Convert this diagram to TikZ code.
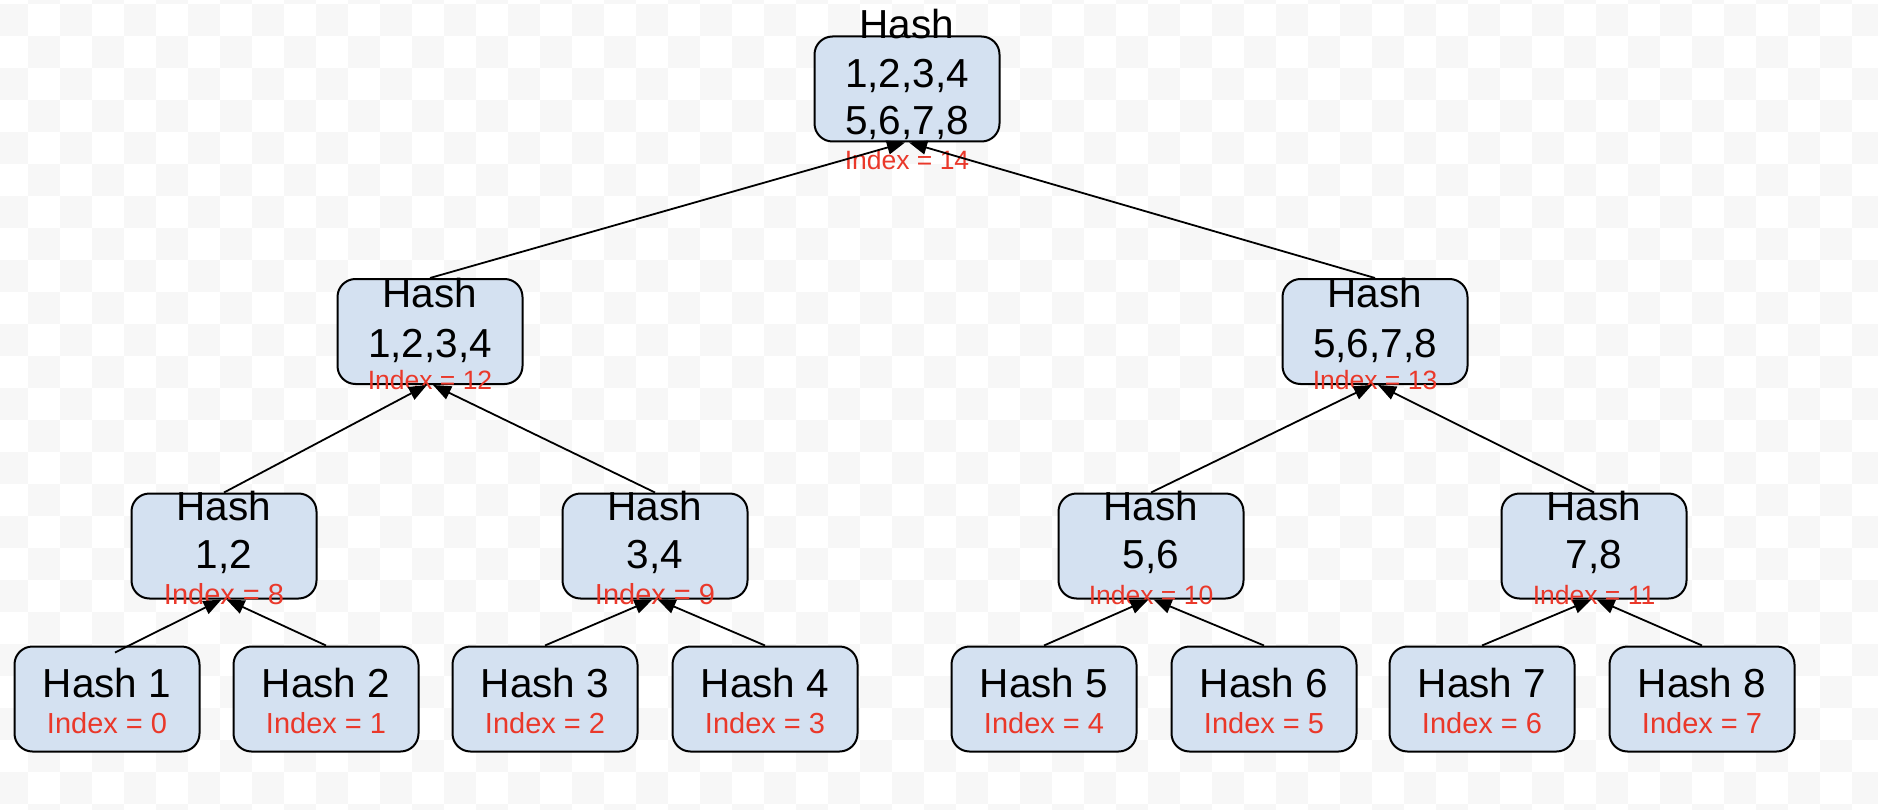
\documentclass[tikz,border=0pt]{standalone}
\usepackage{fontspec}
\setmainfont{Liberation Sans}
\usetikzlibrary{arrows.meta}
\definecolor{boxfill}{RGB}{212,225,241}
\definecolor{idxred}{RGB}{234,56,42}
\definecolor{bggray}{RGB}{247,247,247}
\begin{document}
\begin{tikzpicture}[x=1pt,y=-1pt,
  hashbox/.style={draw=black,line width=2pt,fill=boxfill,rounded corners=18pt,
    minimum width=185pt,minimum height=105pt,inner sep=0pt},
  htext/.style={anchor=base,inner sep=0pt,font=\fontsize{40.5}{48}\selectfont},
  idx/.style={anchor=base,inner sep=0pt,text=idxred,font=\fontsize{29}{34}\selectfont},
  idxs/.style={anchor=base,inner sep=0pt,text=idxred,font=\fontsize{26.5}{31}\selectfont},
  link/.style={line width=1.8pt,draw=black,-{Triangle[length=18pt,width=14pt]}}]
\useasboundingbox (0,0) rectangle (1878,810);
% checkerboard background
\begin{scope}
\clip (0,0) rectangle (1878,810);
\fill[white] (0,0) rectangle (1878,810);
\foreach \c in {-1,...,58}{
  \foreach \r in {-1,...,25}{
    \pgfmathtruncatemacro\s{mod(\c+\r+100,2)}
    \ifnum\s=1
      \fill[bggray] (28+32*\c,4+32*\r) rectangle ++(32,32);
    \fi
  }
}
\end{scope}
% boxes
\node[hashbox] (t) at (907,89) {};
\node[hashbox] (m1) at (430,331.5) {};
\node[hashbox] (m2) at (1375,331.5) {};
\node[hashbox] (p1) at (224,546) {};
\node[hashbox] (p2) at (655,546) {};
\node[hashbox] (p3) at (1151,546) {};
\node[hashbox] (p4) at (1594,546) {};
\node[hashbox] (l1) at (107,699) {};
\node[hashbox] (l2) at (326,699) {};
\node[hashbox] (l3) at (545,699) {};
\node[hashbox] (l4) at (765,699) {};
\node[hashbox] (l5) at (1044,699) {};
\node[hashbox] (l6) at (1264,699) {};
\node[hashbox] (l7) at (1482,699) {};
\node[hashbox] (l8) at (1702,699) {};
% texts: top
\node[htext] (ta) at (907,39) {Hash};
\node[htext] (tb) at (907,88) {1,2,3,4};
\node[htext] (tc) at (907,135) {5,6,7,8};
\node[idxs] (ti) at (907,170) {Index = 14};
% level 2
\node[htext] (m1a) at (430,307) {Hash};
\node[htext] (m1b) at (430,357) {1,2,3,4};
\node[idxs] (m1i) at (430,389) {Index = 12};
\node[htext] (m2a) at (1375,307) {Hash};
\node[htext] (m2b) at (1375,357) {5,6,7,8};
\node[idxs] (m2i) at (1375,389) {Index = 13};
% level 3
\node[htext] (p1a) at (224,520) {Hash};
\node[htext] (p1b) at (224,568) {1,2};
\node[idx] (p1i) at (224,604) {Index = 8};
\node[htext] (p2a) at (655,520) {Hash};
\node[htext] (p2b) at (655,568) {3,4};
\node[idx] (p2i) at (655,604) {Index = 9};
\node[htext] (p3a) at (1151,520) {Hash};
\node[htext] (p3b) at (1151,568) {5,6};
\node[idxs] (p3i) at (1151,604) {Index = 10};
\node[htext] (p4a) at (1594,520) {Hash};
\node[htext] (p4b) at (1594,568) {7,8};
\node[idxs] (p4i) at (1594,604) {Index = 11};
% leaves
\foreach \n/\x in {1/107,2/326,3/545,4/765,5/1044,6/1264,7/1482,8/1702}{
  \pgfmathtruncatemacro\k{\n-1}
  \node[htext] (la\n) at (\x,697) {Hash \n};
  \node[idx] (li\n) at (\x,733) {Index = \k};
}
% connectors
\draw[link] ([xshift=8pt,yshift=-7pt]l1.north) -- ([xshift=-2.5pt]p1.south);
\draw[link] (l2.north) -- ([xshift=2.5pt]p1.south);
\draw[link] (l3.north) -- ([xshift=-2.5pt]p2.south);
\draw[link] (l4.north) -- ([xshift=2.5pt]p2.south);
\draw[link] (l5.north) -- ([xshift=-2.5pt]p3.south);
\draw[link] (l6.north) -- ([xshift=2.5pt]p3.south);
\draw[link] (l7.north) -- ([xshift=-2.5pt]p4.south);
\draw[link] (l8.north) -- ([xshift=2.5pt]p4.south);
\draw[link] (p1.north) -- ([xshift=-3pt]m1.south);
\draw[link] (p2.north) -- ([xshift=3pt]m1.south);
\draw[link] (p3.north) -- ([xshift=-3pt]m2.south);
\draw[link] (p4.north) -- ([xshift=3pt]m2.south);
\draw[link] (m1.north) -- ([xshift=-2pt]t.south);
\draw[link] (m2.north) -- ([xshift=2pt]t.south);
\end{tikzpicture}
\end{document}
